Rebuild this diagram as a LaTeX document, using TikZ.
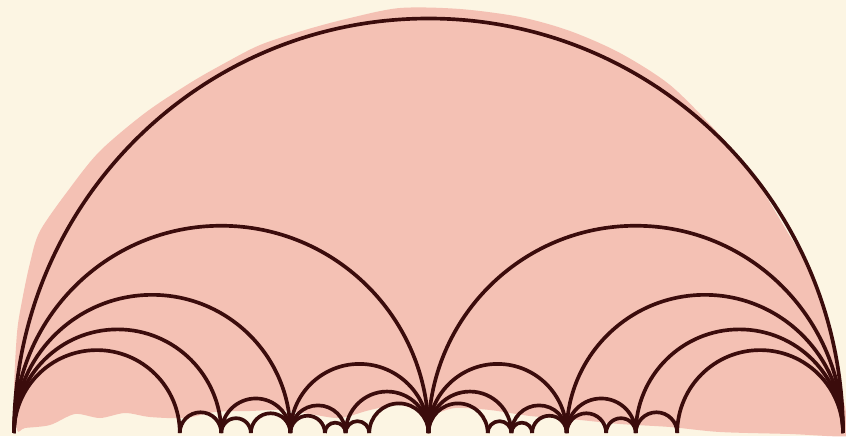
\documentclass[tikz,border=0pt]{standalone}
\usetikzlibrary{calc}
\definecolor{cream}{HTML}{FCF5E3}
\definecolor{blush}{HTML}{F4C1B4}
\definecolor{ink}{HTML}{3B0C0C}
\tikzset{every picture/.style={line width=0.75pt}}
\tikzset{geodesic/.style={ink, line width=0.11cm}}

\begin{document}
\begin{tikzpicture}[x=0.03cm, y=0.03cm]
    % 背景
    \fill[cream] (0,-3) rectangle (846,433);
    \useasboundingbox (0,-3) rectangle (846,433);

    % 粉色底色（手绘感）
    \fill[blush] plot[smooth cycle, tension=0.5] coordinates {
        (17,3) (14,40) (17,100) (22,132) (30,170) (40,202) (70,245)
        (100,282) (145,320) (190,350) (225,370) (260,388) (305,403)
        (350,415) (400,425) (460,424) (520,416) (570,402) (620,380)
        (670,348) (716,302) (750,262) (785,205) (812,158) (830,100)
        (840,50) (848,10) (848,-3) (790,-1) (720,1) (670,6) (620,9)
        (570,14) (530,17) (490,23) (455,25) (430,19) (400,28) (370,23)
        (340,15) (310,19) (280,23) (250,22) (215,21) (185,15) (150,16)
        (125,20) (100,15) (75,19) (50,8) (25,5)};

    % 边界上的 Farey 点
    \foreach \n/\v in {f0/0, f15/0.2, f14/0.25, f27/0.285714, f13/0.333333,
                       f38/0.375, f25/0.4, f37/0.428571, f12/0.5, f47/0.571429,
                       f35/0.6, f58/0.625, f23/0.666667, f57/0.714286,
                       f34/0.75, f45/0.8, f1/1}
        \coordinate (\n) at ({14+829*\v},0);

    % 测地线（半圆）
    \foreach \a/\b in {f0/f1,
                       f0/f12, f12/f1,
                       f0/f13, f13/f12, f12/f23, f23/f1,
                       f0/f14, f14/f13, f13/f25, f25/f12,
                       f12/f35, f35/f23, f23/f34, f34/f1,
                       f0/f15, f15/f14, f14/f27, f27/f13,
                       f13/f38, f38/f25, f25/f37, f37/f12,
                       f12/f47, f47/f35, f35/f58, f58/f23,
                       f23/f57, f57/f34, f34/f45, f45/f1}
        \draw[geodesic] let \p1=(\a), \p2=(\b) in
            (\a) arc[start angle=180, end angle=0, radius={0.5*(\x2-\x1)}];
\end{tikzpicture}
\end{document}
